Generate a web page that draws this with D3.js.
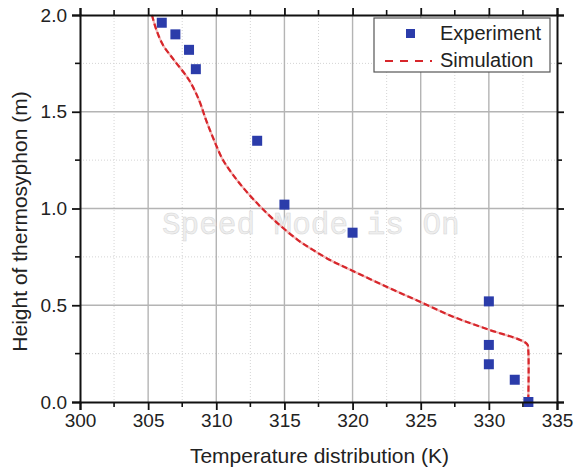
<!DOCTYPE html>
<html><head><meta charset="utf-8">
<script src="https://cdn.jsdelivr.net/npm/d3@7"></script>
<style>body{margin:0;background:#fff}svg{display:block}text{font-family:"Liberation Sans",Arial,sans-serif}</style>
</head><body><svg id="c" width="576" height="472"></svg>
<script>
const expT = [306.0, 307.0, 308.0, 308.5, 313.0, 315.0, 320.0, 330.0, 330.0, 330.0, 331.9, 332.9];
const expH = [1.96, 1.90, 1.82, 1.72, 1.35, 1.02, 0.875, 0.52, 0.295, 0.195, 0.115, 0.0];
const simT = [305.28, 305.61, 306.09, 306.90, 308.00, 308.73, 309.25, 309.83, 310.49, 311.52, 312.77, 314.23, 315.99, 317.09, 318.34, 319.88, 322.53, 324.95, 327.37, 329.86, 332.80, 332.89, 332.89];
const simH = [2.0, 1.922, 1.845, 1.767, 1.664, 1.561, 1.457, 1.354, 1.251, 1.147, 1.044, 0.941, 0.837, 0.786, 0.734, 0.682, 0.594, 0.518, 0.441, 0.377, 0.300, 0.269, 0.0];
const xTicks = [300, 305, 310, 315, 320, 325, 330, 335];
const yTicks = [0.0, 0.5, 1.0, 1.5, 2.0];
const xMinor = [302.5, 307.5, 312.5, 317.5, 322.5, 327.5, 332.5];
const yMinor = [0.25, 0.75, 1.25, 1.75];
const legendLabels = ["Experiment", "Simulation"];
const xTitle = "Temperature distribution (K)";
const yTitle = "Height of thermosyphon (m)";

const L = 80, R = 557, T = 15, B = 402;
const x = d3.scaleLinear().domain([300, 335]).range([L, R]);
const y = d3.scaleLinear().domain([0, 2]).range([B, T]);
const svg = d3.select("#c");

// minor grid (dotted)
svg.append("g").selectAll("line").data(xMinor).join("line")
  .attr("x1", d => x(d)).attr("x2", d => x(d)).attr("y1", T).attr("y2", B)
  .attr("stroke", "#d4d4d4").attr("stroke-width", 1).attr("stroke-dasharray", "1,2");
svg.append("g").selectAll("line").data(yMinor).join("line")
  .attr("y1", d => y(d)).attr("y2", d => y(d)).attr("x1", L).attr("x2", R)
  .attr("stroke", "#d4d4d4").attr("stroke-width", 1).attr("stroke-dasharray", "1,2");
// major grid
svg.append("g").selectAll("line").data(xTicks.slice(1, -1)).join("line")
  .attr("x1", d => x(d)).attr("x2", d => x(d)).attr("y1", T).attr("y2", B)
  .attr("stroke", "#b4b4b4").attr("stroke-width", 1.4);
svg.append("g").selectAll("line").data(yTicks.slice(1, -1)).join("line")
  .attr("y1", d => y(d)).attr("y2", d => y(d)).attr("x1", L).attr("x2", R)
  .attr("stroke", "#b4b4b4").attr("stroke-width", 1.4);

// watermark
svg.append("text").attr("x", 162).attr("y", 234)
  .style("font-family", "'Liberation Mono','DejaVu Sans Mono',monospace")
  .style("font-size", "31px").attr("fill", "#eeeeee").attr("stroke", "#d6d6d6").attr("stroke-width", 0.5)
  .text("Speed Mode is On");

// simulation
const pts = simT.map((t, i) => [t, simH[i]]);
const lineGen = d3.line().x(d => x(d[0])).y(d => y(d[1])).curve(d3.curveCatmullRom.alpha(0.5));
svg.append("path").datum(pts).attr("d", lineGen)
  .attr("fill", "none").attr("stroke", "#f2b8b8").attr("stroke-width", 2.2);
svg.append("path").datum(pts).attr("d", lineGen)
  .attr("fill", "none").attr("stroke", "#d7262b").attr("stroke-width", 2.2).attr("stroke-dasharray", "6,3");

// experiment squares
const s = 10;
svg.append("g").selectAll("rect").data(expT.map((t, i) => [t, expH[i]])).join("rect")
  .attr("x", d => x(d[0]) - s / 2).attr("y", d => y(d[1]) - s / 2)
  .attr("width", s).attr("height", s).attr("fill", "#2b3caa");

// axes
const fmtY = d3.format(".1f");
const ax = (g) => g.selectAll("text").style("font-size", "19px").attr("fill", "#222");
const gB = svg.append("g").attr("transform", `translate(0,${B})`)
  .call(d3.axisBottom(x).tickValues(xTicks).tickSize(8).tickPadding(4).tickFormat(d3.format("d")));
const gL = svg.append("g").attr("transform", `translate(${L},0)`)
  .call(d3.axisLeft(y).tickValues(yTicks).tickSize(8).tickPadding(5).tickFormat(fmtY));
const gT = svg.append("g").attr("transform", `translate(0,${T})`)
  .call(d3.axisTop(x).tickValues(xTicks).tickSize(7).tickFormat(""));
const gR = svg.append("g").attr("transform", `translate(${R},0)`)
  .call(d3.axisRight(y).tickValues(yTicks).tickSize(7).tickFormat(""));
[gB, gL, gT, gR].forEach(g => {
  g.select(".domain").attr("stroke", "#111").attr("stroke-width", 2);
  g.selectAll(".tick line").attr("stroke", "#111").attr("stroke-width", 1.8);
  ax(g);
});
// minor ticks
svg.append("g").selectAll("line").data(xMinor).join("line")
  .attr("x1", d => x(d)).attr("x2", d => x(d)).attr("y1", B).attr("y2", B + 5).attr("stroke", "#111").attr("stroke-width", 1.6);
svg.append("g").selectAll("line").data(xMinor).join("line")
  .attr("x1", d => x(d)).attr("x2", d => x(d)).attr("y1", T).attr("y2", T - 5).attr("stroke", "#111").attr("stroke-width", 1.6);
svg.append("g").selectAll("line").data(yMinor).join("line")
  .attr("y1", d => y(d)).attr("y2", d => y(d)).attr("x1", L).attr("x2", L - 5).attr("stroke", "#111").attr("stroke-width", 1.6);
svg.append("g").selectAll("line").data(yMinor).join("line")
  .attr("y1", d => y(d)).attr("y2", d => y(d)).attr("x1", R).attr("x2", R + 5).attr("stroke", "#111").attr("stroke-width", 1.6);

// titles
svg.append("text").attr("x", (L + R) / 2 + 1).attr("y", 463).attr("text-anchor", "middle")
  .style("font-size", "21px").attr("fill", "#222").text(xTitle);
svg.append("text").attr("transform", `translate(27,${(T + B) / 2 + 13}) rotate(-90)`).attr("text-anchor", "middle")
  .style("font-size", "21px").attr("fill", "#222").text(yTitle);

// legend
const lg = svg.append("g");
lg.append("rect").attr("x", 374).attr("y", 18).attr("width", 176).attr("height", 54)
  .attr("fill", "#fff").attr("stroke", "#555").attr("stroke-width", 1.2);
lg.append("rect").attr("x", 406).attr("y", 29).attr("width", 9).attr("height", 9).attr("fill", "#2b3caa");
lg.append("line").attr("x1", 385).attr("x2", 432).attr("y1", 61).attr("y2", 61)
  .attr("stroke", "#d7262b").attr("stroke-width", 2).attr("stroke-dasharray", "8,7");
lg.selectAll("text.l").data(legendLabels).join("text").attr("class", "l")
  .attr("x", 440).attr("y", (d, i) => 40 + i * 27).style("font-size", "20px").attr("fill", "#222").text(d => d);
</script></body></html>
